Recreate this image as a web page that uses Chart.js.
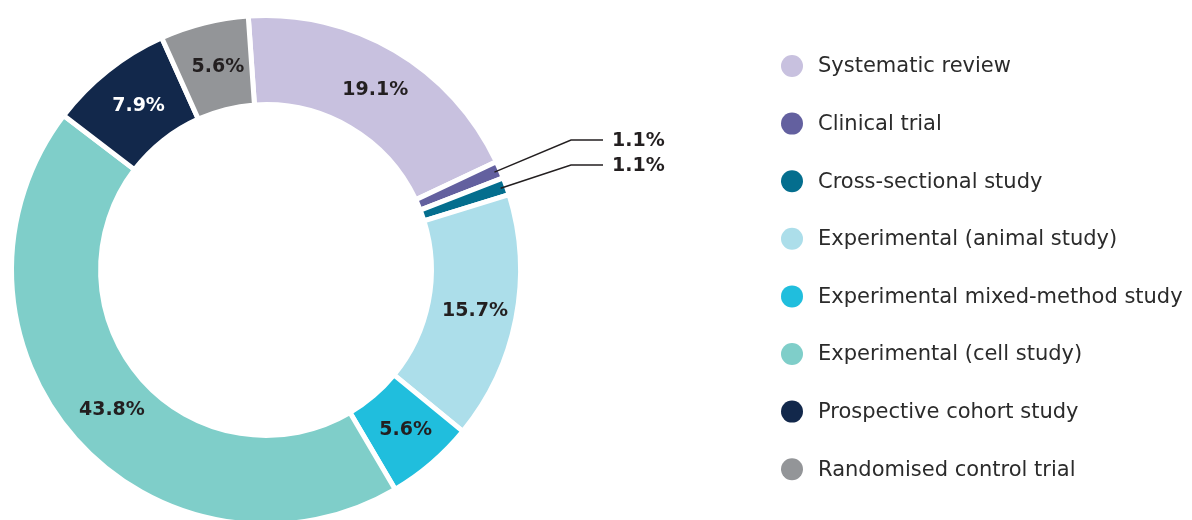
<!DOCTYPE html>
<html>
<head>
<meta charset="utf-8">
<script src="https://cdn.jsdelivr.net/npm/chart.js@4.4.1/dist/chart.umd.min.js"></script>
<style>
  html, body { margin: 0; padding: 0; background: #fff; overflow: hidden; }
  #wrap { position: relative; width: 1192px; height: 540px; }
</style>
</head>
<body>
<div id="wrap"><canvas id="chart"></canvas></div>
<script>
// study types and their share of the papers (%)
const categories = [
  'Systematic review',
  'Clinical trial',
  'Cross-sectional study',
  'Experimental (animal study)',
  'Experimental mixed-method study',
  'Experimental (cell study)',
  'Prospective cohort study',
  'Randomised control trial'
];
const shares = [19.1, 1.1, 1.1, 15.7, 5.6, 43.8, 7.9, 5.6];
const colours = ['#c8c1df', '#63609f', '#046e8e', '#acdeea', '#20bedd', '#7fcec9', '#12284b', '#939598'];
const labelColours = ['#231f20', '#231f20', '#231f20', '#231f20', '#231f20', '#231f20', '#ffffff', '#231f20'];

const labelFont = 'bold 19px "DejaVu Sans", sans-serif';
const legendFont = '21px "DejaVu Sans", sans-serif';

// slice labels, small slices get a callout line
const sliceLabels = {
  id: 'sliceLabels',
  afterDatasetsDraw(chart) {
    const ctx = chart.ctx;
    const arcs = chart.getDatasetMeta(0).data;
    let k = 0;
    ctx.save();
    ctx.font = labelFont;
    ctx.textBaseline = 'middle';
    arcs.forEach((arc, i) => {
      const text = shares[i].toFixed(1) + '%';
      if (shares[i] >= 2) {
        const p = arc.tooltipPosition();
        ctx.fillStyle = labelColours[i];
        ctx.textAlign = 'center';
        ctx.fillText(text, p.x + 3, p.y + 1);
      } else {
        const mid = (arc.startAngle + arc.endAngle) / 2;
        const r = arc.outerRadius - 6;
        const x0 = arc.x + Math.cos(mid) * r;
        const y0 = arc.y + Math.sin(mid) * r;
        const ey = 140 + k * 25;
        ctx.strokeStyle = '#231f20';
        ctx.lineWidth = 1.5;
        ctx.beginPath();
        ctx.moveTo(x0, y0);
        ctx.lineTo(571, ey);
        ctx.lineTo(603, ey);
        ctx.stroke();
        ctx.fillStyle = '#231f20';
        ctx.textAlign = 'left';
        ctx.fillText(text, 612, ey + 1);
        k++;
      }
    });
    ctx.restore();
  }
};

// legend on the right
const sideLegend = {
  id: 'sideLegend',
  afterDraw(chart) {
    const ctx = chart.ctx;
    ctx.save();
    ctx.font = legendFont;
    ctx.textBaseline = 'middle';
    ctx.textAlign = 'left';
    categories.forEach((name, i) => {
      const y = 66 + i * 57.6;
      ctx.fillStyle = colours[i];
      ctx.beginPath();
      ctx.arc(792, y, 11, 0, Math.PI * 2);
      ctx.fill();
      ctx.fillStyle = '#2b2b2b';
      ctx.fillText(name, 818, y + 1);
    });
    ctx.restore();
  }
};

new Chart(document.getElementById('chart'), {
  type: 'doughnut',
  data: {
    labels: categories,
    datasets: [{
      data: shares,
      backgroundColor: colours,
      borderColor: '#ffffff',
      borderWidth: 5
    }]
  },
  options: {
    responsive: true,
    maintainAspectRatio: false,
    animation: false,
    rotation: -4,
    cutout: '65%',
    layout: { padding: { left: 9, top: 13, right: 669, bottom: 13 } },
    plugins: {
      legend: { display: false },
      tooltip: { enabled: false }
    }
  },
  plugins: [sliceLabels, sideLegend]
});
</script>
</body>
</html>
